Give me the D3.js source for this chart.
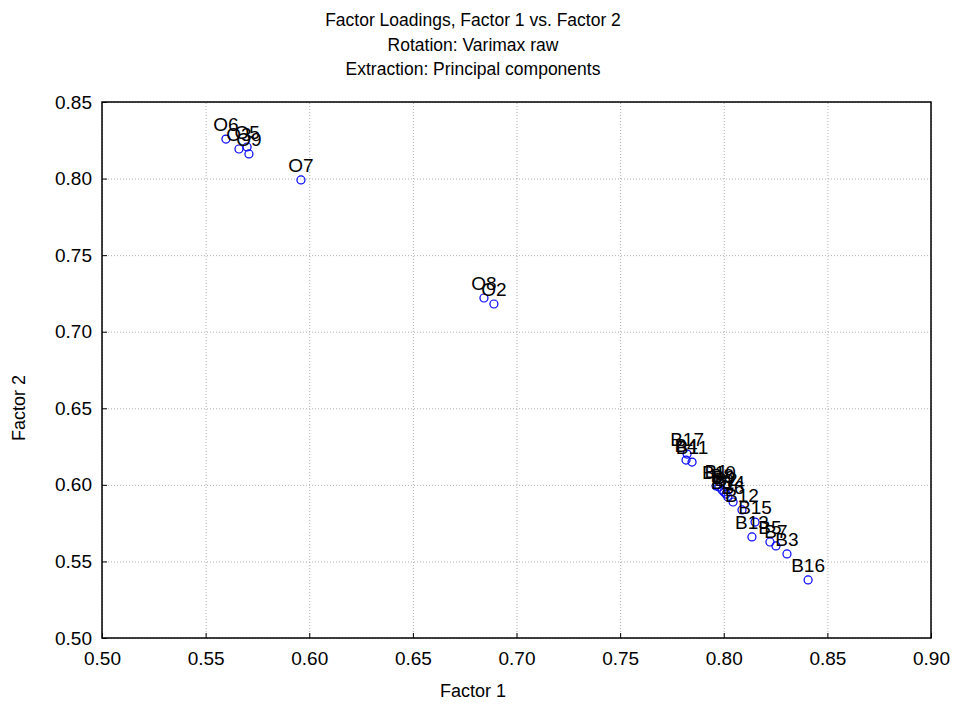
<!DOCTYPE html>
<html>
<head>
<meta charset="utf-8">
<script src="https://cdn.jsdelivr.net/npm/d3@7"></script>
<style>
  body { margin: 0; background: #fff; }
  svg { font-family: "Liberation Sans", Arial, sans-serif; }
  .grid line { stroke: #b0b0b0; stroke-dasharray: 1,2; }
  .grid path { display: none; }
</style>
</head>
<body>
<div class="graph-container"></div>
<script>
// variable names and their loadings on factor 1 / factor 2
var labels = ['O6', 'O3', 'O5', 'O9', 'O7', 'O8', 'O2',
  'B17', 'B4', 'B11', 'B1', 'B10', 'B8', 'B9', 'B2', 'B14', 'B6',
  'B12', 'B15', 'B13', 'B5', 'B7', 'B3', 'B16'];
var factor1 = [0.5598, 0.5661, 0.5700, 0.5709, 0.5960, 0.6843, 0.6891,
  0.7823, 0.7818, 0.7847, 0.7963, 0.7977, 0.7992, 0.8001, 0.8011, 0.8020, 0.8045,
  0.8088, 0.8151, 0.8136, 0.8223, 0.8252, 0.8305, 0.8407];
var factor2 = [0.8258, 0.8193, 0.8206, 0.8161, 0.7991, 0.7220, 0.7181,
  0.6201, 0.6162, 0.6149, 0.5993, 0.5986, 0.5966, 0.5953, 0.5940, 0.5921, 0.5888,
  0.5836, 0.5757, 0.5660, 0.5627, 0.5601, 0.5549, 0.5379];
var xTicks = [0.50, 0.55, 0.60, 0.65, 0.70, 0.75, 0.80, 0.85, 0.90];
var yTicks = [0.50, 0.55, 0.60, 0.65, 0.70, 0.75, 0.80, 0.85];
var titleLines = ['Factor Loadings, Factor 1 vs. Factor 2',
  'Rotation: Varimax raw', 'Extraction: Principal components'];

var svgWidth = 955;
var svgHeight = 709;
// plot box edges (note: "top" is reserved on window, so use plot* names)
var plotLeft = 102, plotRight = 931, plotTop = 102, plotBottom = 638;

var dataset = labels.map(function(d, i) {
  return { name: d, x: factor1[i], y: factor2[i] };
});

var svg = d3.select('.graph-container').append('svg')
  .attr('width', svgWidth)
  .attr('height', svgHeight);

var xScale = d3.scaleLinear().domain([0.5, 0.9]).range([plotLeft, plotRight]);
var yScale = d3.scaleLinear().domain([0.5, 0.85]).range([plotBottom, plotTop]);

// dotted grid
svg.append('g')
  .attr('class', 'grid')
  .attr('transform', 'translate(0,' + plotBottom + ')')
  .call(d3.axisBottom(xScale).tickValues(xTicks).tickSize(-(plotBottom - plotTop)).tickFormat(''));
svg.append('g')
  .attr('class', 'grid')
  .attr('transform', 'translate(' + plotLeft + ',0)')
  .call(d3.axisLeft(yScale).tickValues(yTicks).tickSize(-(plotRight - plotLeft)).tickFormat(''));

// frame
svg.append('rect')
  .attr('x', plotLeft).attr('y', plotTop)
  .attr('width', plotRight - plotLeft).attr('height', plotBottom - plotTop)
  .attr('fill', 'none').attr('stroke', '#000').attr('stroke-width', 1.5);

// axes with inward ticks
var xAxis = svg.append('g')
  .attr('transform', 'translate(0,' + plotBottom + ')')
  .call(d3.axisBottom(xScale).tickValues(xTicks).tickSize(-5).tickPadding(14).tickFormat(d3.format('.2f')));
var yAxis = svg.append('g')
  .attr('transform', 'translate(' + plotLeft + ',0)')
  .call(d3.axisLeft(yScale).tickValues(yTicks).tickSize(-5).tickPadding(10).tickFormat(d3.format('.2f')));
[xAxis, yAxis].forEach(function(a) {
  a.select('.domain').remove();
  a.selectAll('line').attr('stroke', '#000');
  a.selectAll('text').attr('font-size', 19).attr('fill', '#000')
    .attr('font-family', '"Liberation Sans", Arial, sans-serif');
});

// titles
svg.selectAll('.title')
  .data(titleLines)
  .enter()
  .append('text')
  .attr('x', 473)
  .attr('y', function(d, i) { return 26 + i * 24.5; })
  .attr('text-anchor', 'middle')
  .attr('font-size', 17.5)
  .text(function(d) { return d; });

svg.append('text')
  .attr('x', 473).attr('y', 697)
  .attr('text-anchor', 'middle')
  .attr('font-size', 18)
  .text('Factor 1');

svg.append('text')
  .attr('transform', 'translate(25,408) rotate(-90)')
  .attr('text-anchor', 'middle')
  .attr('font-size', 18)
  .text('Factor 2');

// points
svg.selectAll('circle')
  .data(dataset)
  .enter()
  .append('circle')
  .attr('cx', function(d) { return xScale(d.x); })
  .attr('cy', function(d) { return yScale(d.y); })
  .attr('r', 4)
  .attr('fill', 'none')
  .attr('stroke', '#0000ff')
  .attr('stroke-width', 1.2);

// point labels
svg.selectAll('.pt-label')
  .data(dataset)
  .enter()
  .append('text')
  .attr('x', function(d) { return xScale(d.x); })
  .attr('y', function(d) { return yScale(d.y) - 8; })
  .attr('text-anchor', 'middle')
  .attr('font-size', 19)
  .text(function(d) { return d.name; });
</script>
</body>
</html>
